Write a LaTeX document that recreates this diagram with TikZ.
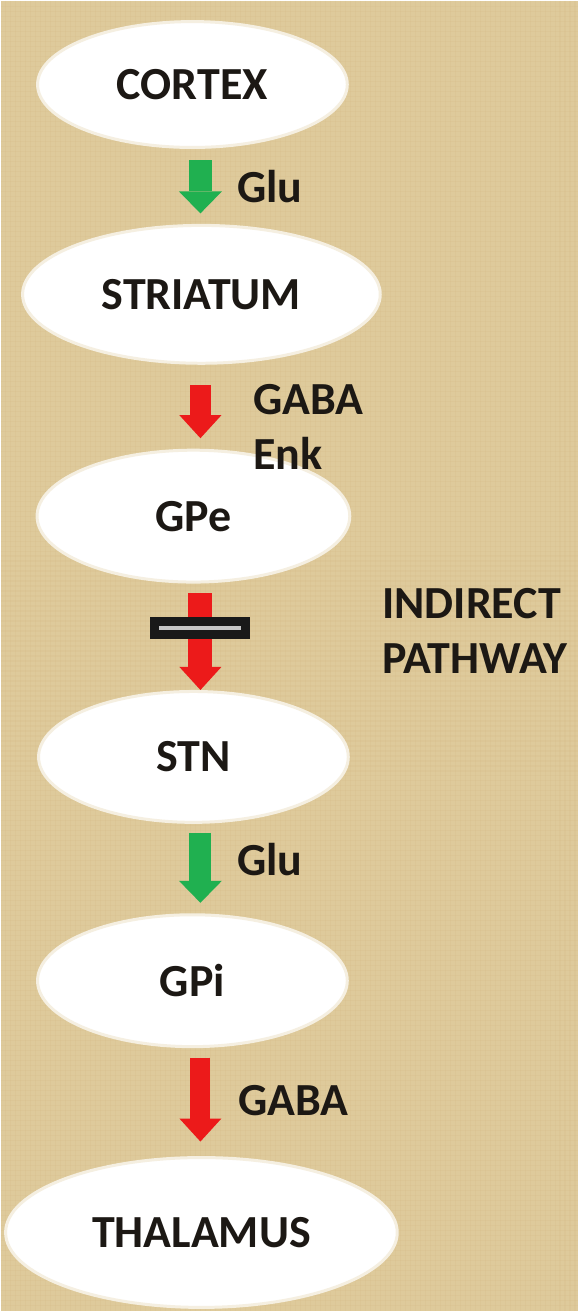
\documentclass[tikz,border=0pt]{standalone}
\usepackage{fontspec}
\setmainfont{Carlito}
\usetikzlibrary{arrows.meta, shapes.geometric}

\definecolor{burlap}{RGB}{222,202,155}
\definecolor{gluGreen}{RGB}{32,176,80}
\definecolor{gabaRed}{RGB}{236,26,26}
\definecolor{inkBlack}{RGB}{28,24,20}

\begin{document}
\begin{tikzpicture}[
    x=1pt, y=-1pt,
    region/.style={ellipse, fill=white, draw=white!70!burlap, line width=3pt, inner sep=0pt, font=\fontsize{46}{55}\selectfont\bfseries, text=inkBlack},
    tag/.style={font=\fontsize{46}{55}\selectfont\bfseries, text=inkBlack, align=left, anchor=west, inner sep=0pt, outer sep=0pt},
    excite/.style={draw=gluGreen, line width=23pt, -{Triangle[width=43pt, length=22pt, line width=0pt]}},
    inhibit/.style={draw=gabaRed, line width=21pt, -{Triangle[width=42pt, length=23pt, line width=0pt]}},
    blockbar/.style={rectangle, draw=black!90, fill=gray!45, line width=9pt, minimum width=91pt, minimum height=13pt, inner sep=0pt},
    weave/.style={draw=burlap!75!brown, line width=1.2pt, opacity=0.2}
]

% burlap backdrop
\fill[burlap] (0,0) rectangle (578,1312);
\foreach \k in {5,10,...,575} \draw[weave] (\k,0) -- (\k,1312);
\foreach \k in {6,11,...,1310} \draw[weave] (0,\k) -- (578,\k);
\useasboundingbox (0,0) rectangle (578,1312);

\coordinate (axis) at (200,0);

\node[region, minimum width=310pt, minimum height=126pt] (cortex) at (192,84) {CORTEX};
\node[region, minimum width=358pt, minimum height=138pt] (striatum) at (201,294) {STRIATUM};
\node[region, minimum width=313pt, minimum height=132pt] (gpe) at (193,516) {GPe};
\node[region, minimum width=310pt, minimum height=131pt] (stn) at (193,757) {STN};
\node[region, minimum width=310pt, minimum height=132pt] (gpi) at (192,981) {GPi};
\node[region, minimum width=392pt, minimum height=150pt] (thalamus) at (201,1233) {THALAMUS};

\draw[excite, shorten <=11.5pt, shorten >=10.5pt] (cortex.south -| axis) -- (striatum.north -| axis)
    node[midway, tag, xshift=37pt] {Glu};
\draw[inhibit, shorten <=20.5pt, shorten >=10.5pt] (striatum.south -| axis) -- (gpe.north -| axis)
    node[midway, tag, xshift=53pt, yshift=-20pt] {GABA\\Enk};
\draw[inhibit, line width=24pt, shorten <=9.5pt, shorten >=0pt] (gpe.south -| axis) -- (stn.north -| axis)
    node[midway, tag, xshift=182pt, yshift=6pt] {INDIRECT\\PATHWAY};
\node[blockbar] (block) at (200,628) {};
\draw[excite, line width=22pt, shorten <=9pt, shorten >=10.5pt] (stn.south -| axis) -- (gpi.north -| axis)
    node[midway, tag, xshift=37pt, yshift=9pt] {Glu};
\draw[inhibit, line width=20pt, shorten <=9.5pt, shorten >=14.5pt] (gpi.south -| axis) -- (thalamus.north -| axis)
    node[midway, tag, xshift=38pt, yshift=1.5pt] {GABA};

\end{tikzpicture}
\end{document}
